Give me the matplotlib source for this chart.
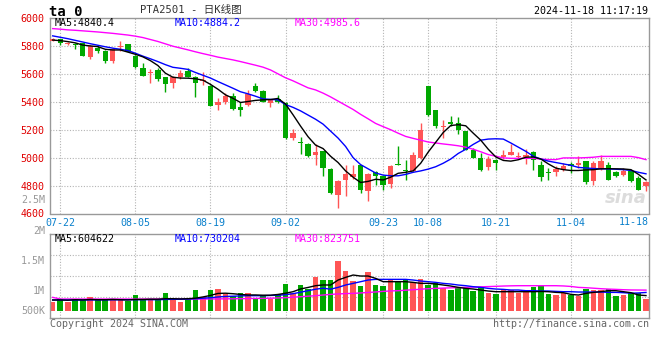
import numpy as np
import matplotlib
matplotlib.use("Agg")
import matplotlib.pyplot as plt

plt.rcParams['font.family'] = ['DejaVu Sans Mono', 'Noto Sans CJK SC']

# trading days shown (07-19 .. 11-18)
dates = ["07-19", "07-22", "07-23", "07-24", "07-25", "07-26", "07-29", "07-30", "07-31", "08-01",
         "08-02", "08-05", "08-06", "08-07", "08-08", "08-09", "08-12", "08-13", "08-14", "08-15",
         "08-16", "08-19", "08-20", "08-21", "08-22", "08-23", "08-26", "08-27", "08-28", "08-29",
         "08-30", "09-02", "09-03", "09-04", "09-05", "09-06", "09-09", "09-10", "09-11", "09-12",
         "09-13", "09-18", "09-19", "09-20", "09-23", "09-24", "09-25", "09-26", "09-27", "09-30",
         "10-08", "10-09", "10-10", "10-11", "10-14", "10-15", "10-16", "10-17", "10-18", "10-21",
         "10-22", "10-23", "10-24", "10-25", "10-28", "10-29", "10-30", "10-31", "11-01", "11-04",
         "11-05", "11-06", "11-07", "11-08", "11-11", "11-12", "11-13", "11-14", "11-15", "11-18"]

opens = [5838, 5850, 5814, 5812, 5819, 5724, 5783, 5764, 5695, 5790,
         5814, 5731, 5640, 5605, 5628, 5576, 5538, 5581, 5617, 5581,
         5548, 5514, 5374, 5395, 5443, 5362, 5374, 5514, 5474, 5390,
         5421, 5393, 5140, 5112, 5100, 5017, 5045, 4921, 4736, 4843,
         4860, 4945, 4764, 4898, 4867, 4812, 4957, 4914, 4905, 4998,
         5510, 5338, 5220, 5252, 5247, 5188, 5057, 4998, 4931, 4985,
         5002, 5021, 5002, 5002, 5038, 4945, 4900, 4895, 4914, 4955,
         4950, 4974, 4831, 4921, 4945, 4895, 4878, 4902, 4855, 4798]
highs = [5855, 5852, 5831, 5819, 5822, 5805, 5800, 5768, 5782, 5836,
         5816, 5738, 5676, 5633, 5640, 5580, 5582, 5629, 5640, 5586,
         5612, 5517, 5426, 5462, 5462, 5402, 5481, 5533, 5486, 5419,
         5450, 5398, 5205, 5148, 5105, 5100, 5050, 4926, 4843, 4950,
         4948, 4950, 4890, 4902, 4871, 4950, 5081, 4986, 5040, 5248,
         5514, 5340, 5267, 5295, 5288, 5190, 5069, 5033, 5009, 4990,
         5057, 5100, 5038, 5064, 5050, 4974, 4926, 4938, 4962, 4967,
         5009, 4978, 4974, 5021, 4967, 4902, 4926, 4914, 4867, 4831]
lows = [5833, 5807, 5807, 5776, 5729, 5705, 5748, 5681, 5681, 5767,
        5758, 5640, 5585, 5538, 5552, 5467, 5502, 5562, 5576, 5433,
        5521, 5369, 5338, 5383, 5343, 5300, 5367, 5470, 5395, 5362,
        5390, 5136, 5124, 5029, 5005, 4945, 4867, 4740, 4640, 4724,
        4848, 4748, 4693, 4802, 4771, 4783, 4945, 4838, 4902, 4990,
        5295, 5210, 5138, 5230, 5171, 5055, 4995, 4905, 4914, 4914,
        4990, 5017, 4998, 4957, 4914, 4831, 4843, 4871, 4902, 4890,
        4926, 4814, 4807, 4914, 4838, 4862, 4871, 4826, 4767, 4760]
closes = [5848, 5824, 5819, 5805, 5731, 5802, 5767, 5695, 5776, 5797,
          5760, 5652, 5588, 5614, 5564, 5529, 5576, 5605, 5581, 5538,
          5557, 5371, 5398, 5445, 5348, 5343, 5457, 5474, 5402, 5410,
          5402, 5140, 5176, 5105, 5010, 5043, 4926, 4745, 4836, 4883,
          4886, 4767, 4886, 4867, 4802, 4938, 4950, 4907, 5018, 5200,
          5307, 5228, 5228, 5240, 5195, 5057, 4998, 4910, 4993, 4962,
          5021, 5040, 5014, 5016, 4986, 4862, 4890, 4921, 4938, 4938,
          4962, 4826, 4962, 4974, 4838, 4867, 4907, 4831, 4771, 4826]

ma5 = [5842, 5838, 5831, 5822, 5806, 5800, 5795, 5776, 5771, 5771,
       5756, 5740, 5722, 5695, 5660, 5605, 5576, 5570, 5569, 5565,
       5555, 5525, 5490, 5450, 5425, 5395, 5402, 5410, 5414, 5416,
       5424, 5384, 5307, 5226, 5150, 5090, 5065, 5010, 4965, 4905,
       4860, 4822, 4830, 4845, 4840, 4860, 4888, 4895, 4905, 4960,
       5040, 5110, 5180, 5230, 5236, 5228, 5175, 5125, 5060, 5005,
       4980, 4975, 4985, 5003, 5005, 4990, 4955, 4925, 4914, 4908,
       4908, 4912, 4914, 4920, 4921, 4920, 4919, 4914, 4880, 4840.4]
ma10 = [5872, 5862, 5852, 5840, 5828, 5816, 5805, 5794, 5784, 5776,
        5767, 5748, 5727, 5708, 5688, 5666, 5647, 5640, 5632, 5610,
        5590, 5570, 5545, 5521, 5497, 5472, 5457, 5440, 5421, 5417,
        5414, 5380, 5360, 5335, 5305, 5275, 5240, 5190, 5140, 5080,
        5000, 4950, 4920, 4890, 4875, 4870, 4870, 4880, 4895, 4905,
        4918, 4935, 4960, 4990, 5030, 5060, 5095, 5125, 5133, 5135,
        5133, 5105, 5075, 5045, 5010, 4990, 4975, 4965, 4955, 4945,
        4930, 4926, 4922, 4920, 4919, 4917, 4914, 4908, 4895, 4884.2]
ma30 = [5924, 5920, 5915, 5912, 5908, 5904, 5900, 5895, 5890, 5884,
        5878, 5870, 5860, 5846, 5832, 5815, 5798, 5785, 5772, 5758,
        5745, 5733, 5720, 5710, 5700, 5688, 5675, 5662, 5648, 5628,
        5600, 5572, 5550, 5525, 5500, 5485, 5462, 5435, 5405, 5375,
        5345, 5310, 5278, 5245, 5222, 5200, 5175, 5152, 5138, 5125,
        5112, 5105, 5098, 5092, 5085, 5075, 5060, 5042, 5022, 5010,
        4998, 4995, 4995, 4995, 4995, 4990, 4986, 4986, 4998, 4998,
        4998, 5000, 5003, 5009, 5009, 5009, 5009, 5009, 5000, 4985.6]

# volume in thousand lots
volume = [360, 480, 360, 480, 480, 547, 427, 480, 480, 480,
          387, 627, 480, 480, 427, 707, 480, 360, 480, 827,
          533, 827, 867, 667, 600, 693, 707, 480, 627, 480,
          653, 1067, 693, 1027, 853, 1347, 1227, 1227, 1987, 1587,
          1187, 987, 1547, 1027, 987, 1253, 1187, 1253, 1160, 1267,
          1027, 1093, 920, 827, 960, 893, 787, 933, 707, 667,
          853, 827, 693, 827, 960, 1000, 667, 627, 693, 627,
          600, 853, 827, 827, 853, 600, 627, 693, 693, 467]
vol_ma5 = [427, 430, 420, 440, 430, 450, 440, 440, 450, 440,
           430, 450, 450, 460, 460, 480, 480, 470, 480, 500,
           550, 610, 690, 700, 680, 650, 630, 630, 620, 620,
           650, 700, 760, 870, 930, 1000, 1030, 1027, 1227, 1333,
           1427, 1387, 1387, 1293, 1160, 1160, 1160, 1160, 1133, 1093,
           1093, 1067, 1027, 987, 933, 893, 867, 827, 787, 760,
           760, 760, 760, 760, 760, 770, 760, 733, 720, 653,
           627, 693, 733, 760, 800, 800, 760, 720, 627, 605]
vol_ma10 = [427, 427, 425, 427, 428, 430, 432, 433, 435, 437,
            438, 440, 440, 440, 440, 450, 455, 460, 465, 480,
            500, 520, 550, 570, 580, 590, 600, 600, 600, 610,
            620, 640, 680, 740, 800, 860, 900, 860, 933, 1027,
            1093, 1160, 1227, 1253, 1253, 1253, 1253, 1253, 1227, 1187,
            1160, 1133, 1093, 1067, 1027, 1000, 960, 933, 893, 867,
            853, 827, 827, 800, 800, 787, 787, 773, 760, 760,
            747, 747, 747, 747, 733, 733, 720, 700, 710, 730]
vol_ma30 = [533, 467, 467, 467, 467, 467, 467, 467, 467, 467,
            467, 467, 467, 467, 467, 467, 467, 467, 467, 467,
            467, 470, 472, 474, 476, 480, 485, 490, 493, 500,
            510, 520, 540, 560, 580, 600, 627, 653, 670, 685,
            693, 710, 730, 750, 773, 790, 800, 820, 840, 860,
            880, 893, 905, 915, 925, 933, 945, 955, 965, 975,
            987, 995, 1000, 1000, 1000, 1000, 1000, 1000, 990, 970,
            933, 920, 900, 880, 865, 853, 840, 830, 827, 824]

label_dates = ["07-22", "08-05", "08-19", "09-02", "09-23", "10-08", "10-21", "11-04"]
last_date = "11-18"
price_ticks = [4600, 4800, 5000, 5200, 5400, 5600, 5800, 6000]
vol_labels = ["500K", "1M", "1.5M", "2M", "2.5M"]
vol_label_pos = [0.09, 0.329, 0.682, 1.043, 1.408]   # axes fraction, as sina places them

RED = "#ff5555"
GREEN = "#00a800"
GRID = "#b4b4b4"
EDGE = "#999999"
DOT = (0, (1, 1.5))

W, H = 660, 360
fig = plt.figure(figsize=(6.6, 3.6), dpi=100)


def box(l, t, r, b):
    return [l / W, 1 - b / H, (r - l) / W, (b - t) / H]


def fx(px):
    return px / W


def fy(px):
    return 1 - px / H


ax = fig.add_axes(box(50, 18, 649, 213.5))
axv = fig.add_axes(box(50, 234.3, 649, 318.3))

x = np.arange(len(dates))
o = np.array(opens, float)
c = np.array(closes, float)
cols = [RED if cc >= oo else GREEN for oo, cc in zip(o, c)]

# candles
ax.vlines(x, lows, highs, colors=cols, lw=1.0, zorder=2)
ax.bar(x, np.maximum(np.abs(c - o), 6), bottom=np.minimum(o, c), width=0.72,
       color=cols, linewidth=0, zorder=3)
ax.plot(x, ma30, color="#ff00ff", lw=1.0, zorder=4)
ax.plot(x, ma10, color="#0000ff", lw=1.0, zorder=4)
ax.plot(x, ma5, color="black", lw=1.0, zorder=5)

# volume
axv.bar(x, volume, width=0.74, color=cols, linewidth=0, zorder=2)
axv.plot(x, vol_ma30, color="#ff00ff", lw=1.0, zorder=4)
axv.plot(x, vol_ma10, color="#0000ff", lw=1.0, zorder=4)
axv.plot(x, vol_ma5, color="black", lw=1.0, zorder=5)

idx = [dates.index(d) for d in label_dates]
for a in (ax, axv):
    a.set_xlim(-0.36, 79.4)
    for i in idx:
        a.axvline(i, color=GRID, lw=0.8, ls=DOT, zorder=0)
    for s in a.spines.values():
        s.set_color(EDGE)
        s.set_linewidth(1.0)

ax.set_ylim(4600, 6000)
for p in price_ticks[1:-1]:
    ax.axhline(p, color=GRID, lw=0.8, ls=DOT, zorder=0)
ax.set_yticks(price_ticks)
ax.set_yticklabels([str(p) for p in price_ticks])
ax.tick_params(axis="y", length=0, pad=4, labelcolor="#e00000", labelsize=7.2)
ax.set_xticks(idx)
ax.set_xticklabels(label_dates)
ax.tick_params(axis="x", length=0, pad=3, labelcolor="#0a80cc", labelsize=7.2)
ax.text(1.0, -0.042, last_date, transform=ax.transAxes, ha="right", va="center",
        color="#0a80cc", fontsize=7.2)

axv.set_ylim(-304, 3056)
for f in (0.25, 0.5, 0.75):
    axv.axhline(-304 + f * 3360, color=GRID, lw=0.8, ls=DOT, zorder=0)
axv.set_xticks([])
axv.set_yticks([])
for lab, pos in zip(vol_labels, vol_label_pos):
    axv.text(-0.008, pos, lab, transform=axv.transAxes, ha="right", va="center",
             color="#999999", fontsize=7.2, clip_on=False)

# header texts
fig.text(fx(49), fy(11.5), "ta 0", fontsize=10, fontweight="bold", va="center", color="black")
fig.text(fx(140), fy(9.5), "PTA2501 - 日K线图", fontsize=7.6, va="center", color="#333333")
fig.text(fx(648), fy(11.5), "2024-11-18 11:17:19", fontsize=7.2, va="center", ha="right",
         color="black")

fig.text(fx(55), fy(23.5), "MA5:%.1f" % ma5[-1], fontsize=7.2, va="center", color="black")
fig.text(fx(175), fy(23.5), "MA10:%.1f" % ma10[-1], fontsize=7.2, va="center", color="#0000ff")
fig.text(fx(295), fy(23.5), "MA30:%.1f" % ma30[-1], fontsize=7.2, va="center", color="#ff00ff")

fig.text(fx(55), fy(238.5), "MA5:604622", fontsize=7.2, va="center", color="black")
fig.text(fx(175), fy(238.5), "MA10:730204", fontsize=7.2, va="center", color="#0000ff")
fig.text(fx(295), fy(238.5), "MA30:823751", fontsize=7.2, va="center", color="#ff00ff")

fig.text(fx(50), fy(324), "Copyright 2024 SINA.COM", fontsize=7.2, va="center", color="#666666")
fig.text(fx(649), fy(324), "http://finance.sina.com.cn", fontsize=7.2, va="center", ha="right",
         color="#666666")

# watermark
ax.text(0.997, 0.035, "sina", transform=ax.transAxes, ha="right", va="bottom",
        fontsize=13, fontweight="bold", fontstyle="italic", family="DejaVu Sans",
        color="#dcdcdc", zorder=1)

fig.savefig("out.png", dpi=100)
